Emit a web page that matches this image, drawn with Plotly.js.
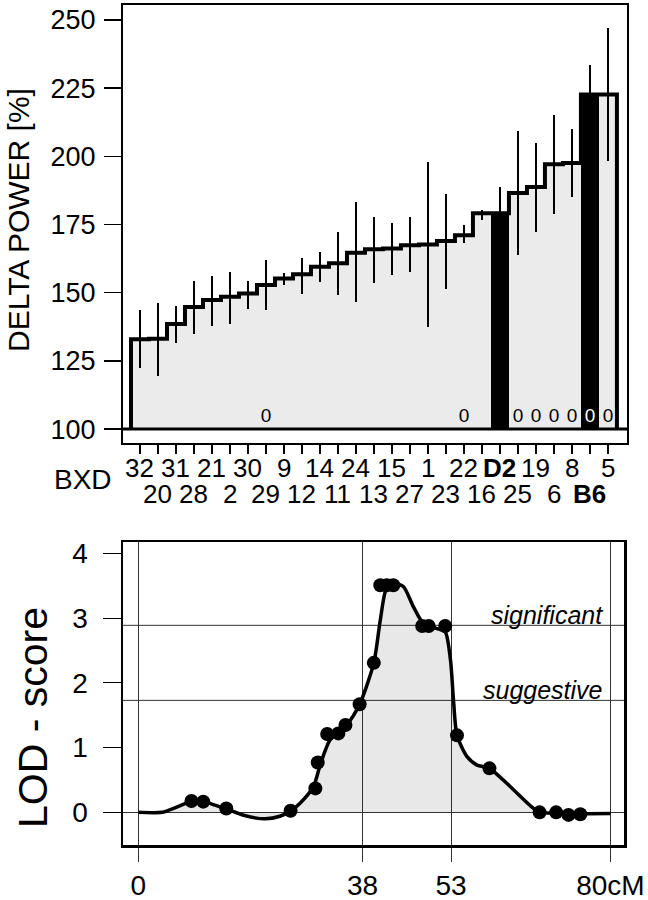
<!DOCTYPE html>
<html>
<head>
<meta charset="utf-8">
<script src="https://cdn.plot.ly/plotly-3.0.1.min.js"></script>
<style>
  body { margin: 0; background: #fff; }
  #graph { width: 648px; height: 900px; }
</style>
</head>
<body>
<div id="graph"></div>
<script>
// BXD strains, ordered as on the x axis
var strains = ['32','20','31','28','21','2','30','29','9','12','14','11','24','13',
               '15','27','1','23','22','16','D2','25','19','6','8','B6','5'];
// delta power per strain (%)
var delta = [132.9, 133.1, 138.5, 144.8, 147.3, 148.5, 149.7, 152.8, 155.2, 156.8,
             159.5, 160.8, 164.7, 165.9, 166.2, 167.4, 167.7, 169.0, 171.1, 179.1,
             179.1, 186.6, 188.8, 197.1, 197.6, 222.7, 222.7];
// error bar ends
var errHi = [143.6, 146.1, 145.0, 154.2, 156.0, 157.7, 154.2, 162.0, 157.3, 162.9,
             165.0, 172.3, 183.1, 177.8, 175.6, 177.8, 197.8, 186.1, 174.8, 180.5,
             188.8, 209.2, 205.0, 215.1, 209.9, 233.4, 246.9];
var errLo = [122.4, 119.4, 131.4, 134.7, 137.8, 138.7, 144.2, 143.6, 152.8, 149.7,
             154.0, 149.1, 146.6, 153.4, 156.5, 157.7, 137.5, 151.2, 168.1, 176.6,
             170.0, 164.0, 172.3, 178.7, 185.2, 212.0, 198.4];
var parental = ['D2', 'B6'];
var zeroStrains = ['29', '22', '25', '19', '6', '8', 'B6', '5'];
var baseline = 100;

// LOD curve along the chromosome
var curveCM  = [0, 4, 6.5, 9, 11, 13, 15, 18, 21.5, 24, 25.8, 27.4, 29.7, 30.8, 32.5, 35.3,
                37.5, 39.9, 41.0, 42.0, 43.2, 44.9, 46.6, 48.3, 50.6, 52.0, 52.9, 53.4, 54.0,
                55.7, 57.4, 59.5, 63.0, 67.0, 68.5, 74, 80];
var curveLOD = [0, 0, 0.08, 0.17, 0.17, 0.11, 0.05, -0.05, -0.1, -0.06, 0.02, 0.14, 0.40, 0.73,
                1.12, 1.35, 1.67, 2.31, 2.97, 3.45, 3.54, 3.49, 3.18, 2.92, 2.84, 2.79, 2.35,
                1.74, 1.19, 0.86, 0.73, 0.68, 0.40, 0.06, 0.0, -0.02, -0.02];
// markers
var markerCM  = [9.0, 11.0, 14.9, 25.8, 30.0, 30.4, 32.0, 33.9, 35.1, 37.5, 39.9, 41.0, 42.1,
                 43.2, 48.1, 49.2, 52.0, 54.0, 59.5, 68.0, 70.8, 72.9, 74.9];
var markerLOD = [0.175, 0.165, 0.06, 0.025, 0.37, 0.77, 1.21, 1.22, 1.35, 1.67, 2.31, 3.51, 3.51,
                 3.51, 2.88, 2.88, 2.88, 1.19, 0.68, 0.0, 0.0, -0.04, -0.03];
var cmTicks = [0, 38, 53, 80];
var cmLabels = ['0', '38', '53', '80cM'];
var significant = 2.89;
var suggestive = 1.73;

var pos = strains.map(function (s, i) { return i + 1; });

var bars = {
  type: 'bar', x: pos, y: delta.map(function (v) { return v - baseline; }), base: baseline,
  width: 1, xaxis: 'x', yaxis: 'y',
  marker: { color: strains.map(function (s) { return parental.indexOf(s) >= 0 ? '#000' : '#ebebeb'; }),
            line: { width: 0 } },
  error_y: { type: 'data', symmetric: false, color: '#000', thickness: 2, width: 0,
             array: errHi.map(function (v, i) { return v - delta[i]; }),
             arrayminus: errLo.map(function (v, i) { return delta[i] - v; }) },
  hoverinfo: 'skip'
};

// step outline round the bars
var stepX = [0.5].concat(pos.map(function (p) { return p - 0.5; })).concat([pos.length + 0.5]);
var stepY = [baseline].concat(delta).concat([baseline]);
var outline = {
  type: 'scatter', mode: 'lines', x: stepX, y: stepY, xaxis: 'x', yaxis: 'y',
  line: { color: '#000', width: 4, shape: 'hv' }, hoverinfo: 'skip'
};

var zeroIdx = strains.map(function (s, i) { return zeroStrains.indexOf(s) >= 0 ? i : -1; })
                     .filter(function (i) { return i >= 0; });
var zeros = {
  type: 'scatter', mode: 'text', xaxis: 'x', yaxis: 'y',
  x: zeroIdx.map(function (i) { return pos[i]; }),
  y: zeroIdx.map(function () { return 104.2; }),
  text: zeroIdx.map(function () { return '0'; }),
  textfont: { size: 19, color: zeroIdx.map(function (i) { return parental.indexOf(strains[i]) >= 0 ? '#fff' : '#000'; }) },
  hoverinfo: 'skip'
};

var curve = {
  type: 'scatter', mode: 'lines', x: curveCM, y: curveLOD, xaxis: 'x2', yaxis: 'y2',
  fill: 'tozeroy', fillcolor: 'rgba(0,0,0,0.09)',
  line: { color: '#000', width: 3.5, shape: 'spline', smoothing: 0.7 }, hoverinfo: 'skip'
};
var dots = {
  type: 'scatter', mode: 'markers', x: markerCM, y: markerLOD, xaxis: 'x2', yaxis: 'y2',
  marker: { color: '#000', size: 14 }, hoverinfo: 'skip'
};

var annotations = strains.map(function (s, i) {
  return {
    x: pos[i], xref: 'x', y: i % 2 === 0 ? 0.48 : 0.4511, yref: 'paper',
    xanchor: 'center', yanchor: 'middle',
    text: parental.indexOf(s) >= 0 ? '<b>' + s + '</b>' : s,
    showarrow: false, font: { size: 26 }
  };
});
annotations.push(
  { x: 83 / 648, y: 1 - 479 / 900, xref: 'paper', yref: 'paper', xanchor: 'center', yanchor: 'middle',
    text: 'BXD', showarrow: false, font: { size: 28 } },
  { x: 18 / 648, y: 1 - 220 / 900, xref: 'paper', yref: 'paper', xanchor: 'center', yanchor: 'middle',
    text: 'DELTA POWER [%]', textangle: -90, showarrow: false, font: { size: 30 } },
  { x: 33 / 648, y: 1 - 718 / 900, xref: 'paper', yref: 'paper', xanchor: 'center', yanchor: 'middle',
    text: 'LOD - score', textangle: -90, showarrow: false, font: { size: 41 } },
  { x: 605 / 648, xref: 'paper', xanchor: 'right', y: significant, yref: 'y2', yanchor: 'bottom', yshift: -6,
    text: '<i>significant</i>', showarrow: false, font: { size: 25 } },
  { x: 605 / 648, xref: 'paper', xanchor: 'right', y: suggestive, yref: 'y2', yanchor: 'bottom', yshift: -6,
    text: '<i>suggestive</i>', showarrow: false, font: { size: 25 } }
);

var shapes = [
  { type: 'line', xref: 'x domain', x0: 0, x1: 1, yref: 'y', y0: baseline, y1: baseline,
    line: { color: '#000', width: 3 } },
  { type: 'line', xref: 'x2 domain', x0: 0, x1: 1, yref: 'y2', y0: significant, y1: significant,
    line: { color: '#333', width: 1 }, layer: 'below' },
  { type: 'line', xref: 'x2 domain', x0: 0, x1: 1, yref: 'y2', y0: suggestive, y1: suggestive,
    line: { color: '#333', width: 1 }, layer: 'below' }
];

var layout = {
  width: 648, height: 900,
  margin: { l: 0, r: 0, t: 0, b: 0 },
  paper_bgcolor: '#fff', plot_bgcolor: '#fff',
  font: { family: 'Liberation Sans, Arial, sans-serif', color: '#000', size: 26 },
  showlegend: false, bargap: 0,
  xaxis: {
    domain: [123 / 648, 627 / 648], anchor: 'y', range: [0.056, 28.06],
    tickvals: pos, ticktext: pos.map(function () { return ''; }),
    ticks: 'outside', ticklen: 9, tickwidth: 1.5, tickcolor: '#000',
    showline: true, linewidth: 2, linecolor: '#000', mirror: true,
    showgrid: false, zeroline: false, fixedrange: true
  },
  yaxis: {
    domain: [1 - 443 / 900, 1 - 5 / 900], anchor: 'x', range: [94.9, 255.5],
    tickvals: [100, 125, 150, 175, 200, 225, 250],
    ticks: 'outside', ticklen: 17, tickwidth: 1.5, tickcolor: '#000', ticklabelstandoff: 3,
    tickfont: { size: 27 },
    showline: true, linewidth: 2, linecolor: '#000', mirror: true,
    showgrid: false, zeroline: false, fixedrange: true
  },
  xaxis2: {
    domain: [123 / 648, 624 / 648], anchor: 'y2', range: [-2.6, 82.3],
    tickvals: cmTicks, ticktext: cmLabels,
    ticks: 'outside', ticklen: 14, tickwidth: 1, tickcolor: '#333', ticklabelstandoff: 0,
    tickfont: { size: 28 },
    showline: true, linewidth: 2.5, linecolor: '#000', mirror: true,
    showgrid: true, gridcolor: '#333', gridwidth: 1, zeroline: false, fixedrange: true
  },
  yaxis2: {
    domain: [1 - 845 / 900, 1 - 542 / 900], anchor: 'x2', range: [-0.505, 4.178],
    tickvals: [0, 1, 2, 3, 4],
    ticks: 'outside', ticklen: 18, tickwidth: 1, tickcolor: '#000', ticklabelstandoff: 9,
    tickfont: { size: 28 },
    showline: true, linewidth: 2.5, linecolor: '#000', mirror: true,
    showgrid: false, zeroline: true, zerolinecolor: '#333', zerolinewidth: 1, fixedrange: true
  },
  annotations: annotations,
  shapes: shapes
};

Plotly.newPlot('graph', [bars, outline, zeros, curve, dots], layout, { displayModeBar: false, staticPlot: true });
</script>
</body>
</html>
